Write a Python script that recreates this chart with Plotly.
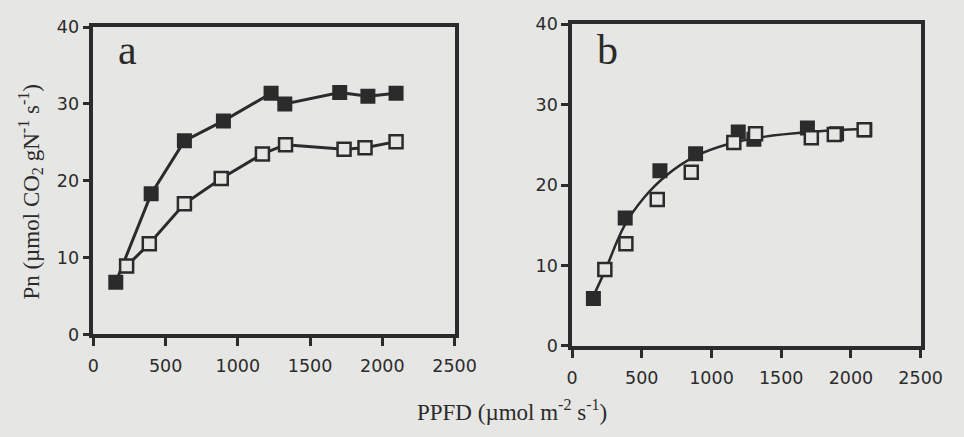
# Net photosynthesis vs PPFD, panels a and b
import plotly.graph_objs as go

# Panel a
a_filled_x = [155, 400, 630, 900, 1230, 1325, 1705, 1900, 2095]
a_filled_y = [6.8, 18.3, 25.2, 27.8, 31.4, 30.0, 31.5, 31.0, 31.4]
a_open_x = [230, 387, 630, 885, 1170, 1330, 1735, 1880, 2095]
a_open_y = [8.9, 11.8, 17.0, 20.3, 23.5, 24.7, 24.1, 24.3, 25.1]

# Panel b
b_filled_x = [153, 381, 630, 886, 1192, 1304, 1688, 1897, 2100]
b_filled_y = [5.9, 15.9, 21.8, 23.9, 26.6, 25.7, 27.1, 26.4, 26.9]
b_open_x = [235, 386, 611, 855, 1160, 1316, 1716, 1881, 2095]
b_open_y = [9.5, 12.7, 18.2, 21.6, 25.3, 26.4, 25.9, 26.3, 26.9]
b_fit_x = [153, 235, 374, 514, 676, 886, 1141, 1374, 1699, 2118]
b_fit_y = [6.2, 9.3, 14.9, 18.4, 21.2, 23.6, 25.2, 26.0, 26.6, 27.0]

x_ticks = [0, 500, 1000, 1500, 2000, 2500]
y_ticks = [0, 10, 20, 30, 40]

bg = '#e6e6e4'
ink = '#2b2b2b'

data = [
    go.Scatter(x=a_filled_x, y=a_filled_y, mode='lines+markers',
               line=dict(color=ink, width=3),
               marker=dict(symbol='square', size=15, color=ink),
               xaxis='x', yaxis='y'),
    go.Scatter(x=a_open_x, y=a_open_y, mode='lines+markers',
               line=dict(color=ink, width=3),
               marker=dict(symbol='square', size=13, color=bg,
                           line=dict(color=ink, width=2.5)),
               xaxis='x', yaxis='y'),
    go.Scatter(x=b_fit_x, y=b_fit_y, mode='lines', line_shape='spline',
               line=dict(color=ink, width=2.5),
               xaxis='x2', yaxis='y2'),
    go.Scatter(x=b_filled_x, y=b_filled_y, mode='markers',
               marker=dict(symbol='square', size=15, color=ink),
               xaxis='x2', yaxis='y2'),
    go.Scatter(x=b_open_x, y=b_open_y, mode='markers',
               marker=dict(symbol='square', size=13, color=bg,
                           line=dict(color=ink, width=2.5)),
               xaxis='x2', yaxis='y2'),
]

tick_font = dict(family='DejaVu Sans', size=17.5, color=ink)


def x_axis(domain, anchor):
    return dict(domain=domain, anchor=anchor, range=[0, 2500],
                tickvals=x_ticks, ticks='outside', ticklen=8, tickwidth=3,
                tickcolor=ink, showline=True, linewidth=3.5, linecolor=ink,
                mirror=True, showgrid=False, zeroline=False,
                tickfont=tick_font, ticklabelstandoff=5)


def y_axis(domain, anchor):
    return dict(domain=domain, anchor=anchor, range=[0, 40],
                tickvals=y_ticks, ticks='outside', ticklen=7, tickwidth=3,
                tickcolor=ink, showline=True, linewidth=3.5, linecolor=ink,
                mirror=True, showgrid=False, zeroline=False,
                tickfont=tick_font)


serif = dict(family='Liberation Serif, Times New Roman', color=ink)


def label(text, x, y, size, angle=0):
    return dict(text=text, x=x / 964, y=(437 - y) / 437, xref='paper',
                yref='paper', xanchor='center', yanchor='middle',
                textangle=angle, showarrow=False, font=dict(size=size, **serif))


layout = go.Layout(
    width=964, height=437,
    margin=dict(l=0, r=0, t=0, b=0),
    paper_bgcolor=bg, plot_bgcolor=bg,
    showlegend=False,
    xaxis=x_axis([90 / 964, 462 / 964], 'y'),
    yaxis=y_axis([97 / 437, 419 / 437], 'x'),
    xaxis2=x_axis([583 / 964, 942 / 964], 'y2'),
    yaxis2=y_axis([85 / 437, 422 / 437], 'x2'),
    annotations=[
        label('a', 125, 42, 42),
        label('b', 619, 42, 42),
        label('Pn (µmol CO<sub>2</sub> gN<sup>-1</sup> s<sup>-1</sup>)',
              25, 190, 23, angle=-90),
        label('PPFD (µmol m<sup>-2</sup> s<sup>-1</sup>)', 521, 420, 23),
    ],
)

fig = go.Figure(data=data, layout=layout)
fig.write_html("out.html", config=dict(displayModeBar=False),
               post_script="document.body.style.margin='0';"
                           "document.body.style.overflow='hidden';")
